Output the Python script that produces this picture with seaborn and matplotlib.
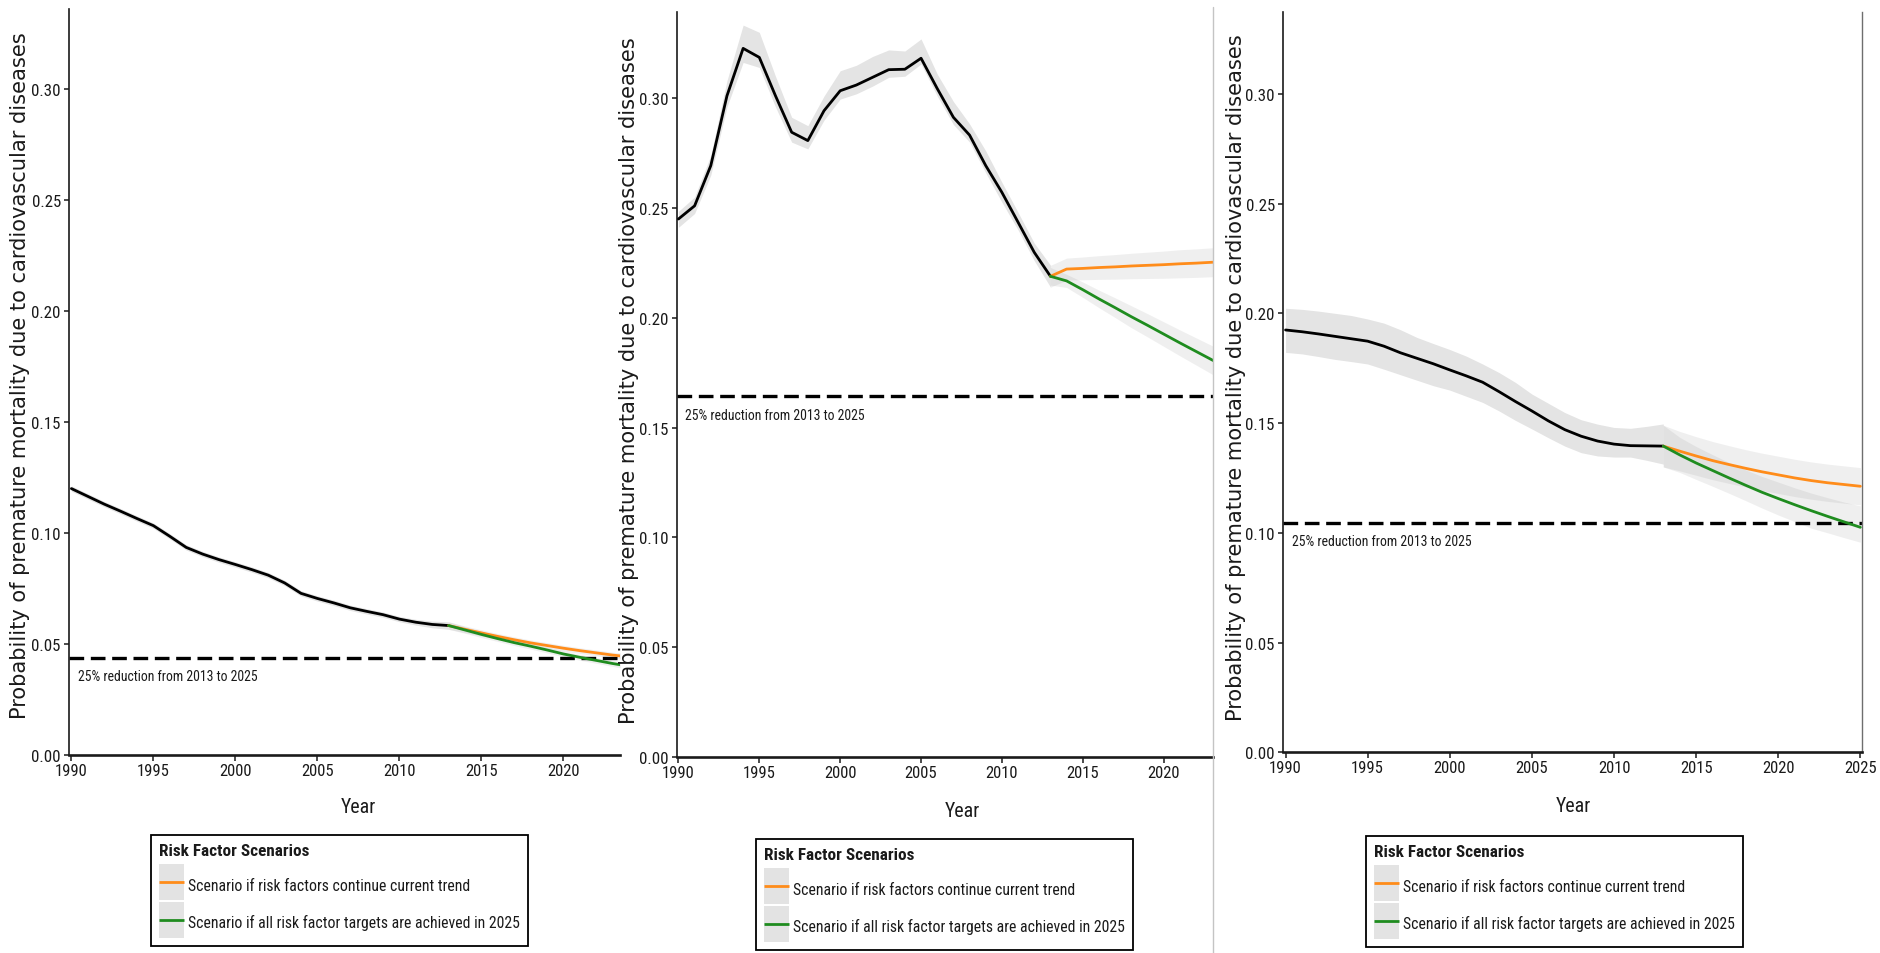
import matplotlib
matplotlib.use("Agg")
import matplotlib.pyplot as plt
import numpy as np
import pandas as pd
import seaborn as sns
from matplotlib import font_manager
from matplotlib.font_manager import FontProperties
from matplotlib.textpath import TextPath
from matplotlib.lines import Line2D
from matplotlib.patches import Rectangle

sns.set_theme(style="ticks")


def pick_narrow_font():
    """Prefer a narrow/condensed sans; fall back to Liberation Sans."""
    stretches = {}
    for f in font_manager.fontManager.ttflist:
        stretches.setdefault(f.name, set()).add(str(f.stretch))
    for name in ["Liberation Sans Narrow", "Arial Narrow", "Roboto Condensed",
                 "Noto Sans Condensed", "Open Sans Condensed", "Noto Sans Display Condensed"]:
        if name in stretches:
            return {"family": name, "stretch": "normal"}
    for name in ["Roboto", "Noto Sans", "Open Sans", "DejaVu Sans"]:
        if stretches.get(name, set()) & {"condensed", "semi-condensed", "extra-condensed"}:
            return {"family": name, "stretch": "condensed"}
    return {"family": "Liberation Sans", "stretch": "normal"}


NARROW = pick_narrow_font()
WIDE = {"family": "DejaVu Sans", "stretch": "normal"}
plt.rcParams["font.family"] = [NARROW["family"], "DejaVu Sans"]

DPI = 100


def fit_size(text, target_px, font, weight="normal"):
    """Font size (pt) whose ink width equals target_px at the output dpi."""
    fp = FontProperties(family=font["family"], stretch=font["stretch"], weight=weight)
    w = TextPath((0, 0), text, size=100, prop=fp).get_extents().width
    return target_px * 72.0 / DPI * 100.0 / w


def fprops(font, size, weight="normal"):
    return FontProperties(family=font["family"], stretch=font["stretch"], size=size, weight=weight)


# ---------------- data ----------------
years_hist = list(range(1990, 2014))
years_proj = list(range(2013, 2026))

# Panel 1
p1_hist = [0.1200, 0.1165, 0.1130, 0.1098, 0.1065, 0.1033, 0.0985, 0.0935, 0.0905, 0.0880, 0.0858, 0.0835,
           0.0810, 0.0775, 0.0728, 0.0705, 0.0685, 0.0663, 0.0647, 0.0632, 0.0612, 0.0598, 0.0588, 0.0583]
p1_hist_lo = [0.1188, 0.1153, 0.1118, 0.1086, 0.1053, 0.1021, 0.0973, 0.0923, 0.0893, 0.0868, 0.0846, 0.0823,
              0.0798, 0.0763, 0.0716, 0.0693, 0.0673, 0.0651, 0.0635, 0.0620, 0.0600, 0.0585, 0.0573, 0.0566]
p1_hist_hi = [0.1212, 0.1177, 0.1142, 0.1110, 0.1077, 0.1045, 0.0997, 0.0947, 0.0917, 0.0892, 0.0870, 0.0847,
              0.0822, 0.0787, 0.0740, 0.0717, 0.0697, 0.0675, 0.0659, 0.0644, 0.0624, 0.0611, 0.0603, 0.0600]
p1_trend = [0.0583, 0.0566, 0.0550, 0.0534, 0.0519, 0.0505, 0.0493, 0.0481, 0.0470, 0.0460, 0.0450, 0.0442, 0.0435]
p1_trend_lo = [0.0566, 0.0551, 0.0536, 0.0521, 0.0506, 0.0492, 0.0480, 0.0468, 0.0457, 0.0447, 0.0437, 0.0428, 0.0421]
p1_trend_hi = [0.0600, 0.0581, 0.0564, 0.0547, 0.0532, 0.0518, 0.0506, 0.0494, 0.0483, 0.0473, 0.0463, 0.0456, 0.0449]
p1_target = [0.0583, 0.0563, 0.0543, 0.0524, 0.0506, 0.0490, 0.0473, 0.0455, 0.0440, 0.0426, 0.0412, 0.0400, 0.0389]
p1_target_lo = [0.0566, 0.0548, 0.0529, 0.0511, 0.0493, 0.0477, 0.0460, 0.0442, 0.0427, 0.0413, 0.0399, 0.0386, 0.0375]
p1_target_hi = [0.0600, 0.0578, 0.0557, 0.0537, 0.0519, 0.0503, 0.0486, 0.0468, 0.0453, 0.0439, 0.0425, 0.0414, 0.0403]

# Panel 2
p2_hist = [0.2450, 0.2510, 0.2693, 0.3011, 0.3227, 0.3186, 0.3011, 0.2845, 0.2807, 0.2943, 0.3034, 0.3060,
           0.3095, 0.3130, 0.3132, 0.3182, 0.3044, 0.2913, 0.2832, 0.2693, 0.2571, 0.2435, 0.2298, 0.2189]
p2_hist_lo = [0.2412, 0.2475, 0.2650, 0.2960, 0.3163, 0.3140, 0.2960, 0.2800, 0.2769, 0.2900, 0.2996, 0.3020,
              0.3055, 0.3095, 0.3100, 0.3156, 0.3010, 0.2880, 0.2800, 0.2660, 0.2526, 0.2400, 0.2260, 0.2140]
p2_hist_hi = [0.2485, 0.2550, 0.2740, 0.3080, 0.3333, 0.3300, 0.3100, 0.2913, 0.2875, 0.3010, 0.3125, 0.3150,
              0.3190, 0.3220, 0.3215, 0.3270, 0.3110, 0.2985, 0.2883, 0.2760, 0.2617, 0.2480, 0.2340, 0.2240]
p2_trend = [0.2189, 0.2222, 0.2225, 0.2229, 0.2232, 0.2236, 0.2239, 0.2242, 0.2246, 0.2249, 0.2253, 0.2256, 0.2260]
p2_trend_lo = [0.2139, 0.2172, 0.2173, 0.2175, 0.2176, 0.2178, 0.2179, 0.2180, 0.2182, 0.2184, 0.2187, 0.2188, 0.2190]
p2_trend_hi = [0.2239, 0.2272, 0.2277, 0.2283, 0.2288, 0.2294, 0.2299, 0.2304, 0.2310, 0.2314, 0.2319, 0.2324, 0.2330]
p2_target = [0.2189, 0.2168, 0.2128, 0.2086, 0.2046, 0.2005, 0.1966, 0.1926, 0.1886, 0.1847, 0.1808, 0.1770, 0.1733]
p2_target_lo = [0.2149, 0.2138, 0.2093, 0.2046, 0.2001, 0.1955, 0.1913, 0.1870, 0.1827, 0.1785, 0.1743, 0.1702, 0.1663]
p2_target_hi = [0.2229, 0.2198, 0.2163, 0.2126, 0.2091, 0.2055, 0.2019, 0.1982, 0.1945, 0.1909, 0.1873, 0.1838, 0.1803]

# Panel 3
p3_hist = [0.1924, 0.1916, 0.1906, 0.1895, 0.1884, 0.1873, 0.1850, 0.1820, 0.1795, 0.1770, 0.1742, 0.1715,
           0.1686, 0.1643, 0.1598, 0.1555, 0.1510, 0.1470, 0.1440, 0.1418, 0.1404, 0.1397, 0.1396, 0.1395]
p3_hist_lo = [0.1822, 0.1815, 0.1803, 0.1790, 0.1780, 0.1769, 0.1745, 0.1720, 0.1695, 0.1670, 0.1650, 0.1622,
              0.1594, 0.1555, 0.1512, 0.1473, 0.1433, 0.1395, 0.1365, 0.1350, 0.1345, 0.1345, 0.1330, 0.1313]
p3_hist_hi = [0.2023, 0.2018, 0.2010, 0.2000, 0.1990, 0.1974, 0.1955, 0.1925, 0.1890, 0.1862, 0.1835, 0.1805,
              0.1769, 0.1730, 0.1685, 0.1632, 0.1590, 0.1548, 0.1515, 0.1495, 0.1480, 0.1476, 0.1485, 0.1496]
p3_trend = [0.1395, 0.1372, 0.1350, 0.1329, 0.1311, 0.1294, 0.1278, 0.1264, 0.1250, 0.1238, 0.1228, 0.1220, 0.1212]
p3_trend_lo = [0.1300, 0.1282, 0.1262, 0.1242, 0.1225, 0.1209, 0.1193, 0.1179, 0.1165, 0.1153, 0.1143, 0.1135, 0.1127]
p3_trend_hi = [0.1490, 0.1462, 0.1438, 0.1416, 0.1397, 0.1379, 0.1363, 0.1349, 0.1335, 0.1323, 0.1313, 0.1305, 0.1297]
p3_target = [0.1395, 0.1355, 0.1318, 0.1284, 0.1250, 0.1217, 0.1185, 0.1156, 0.1128, 0.1101, 0.1075, 0.1050, 0.1025]
p3_target_lo = [0.1300, 0.1275, 0.1243, 0.1212, 0.1180, 0.1147, 0.1113, 0.1081, 0.1051, 0.1021, 0.1000, 0.0978, 0.0957]
p3_target_hi = [0.1490, 0.1435, 0.1393, 0.1356, 0.1320, 0.1287, 0.1257, 0.1231, 0.1205, 0.1181, 0.1160, 0.1140, 0.1123]

y_ticks = [0.00, 0.05, 0.10, 0.15, 0.20, 0.25, 0.30]
x_ticks = [1990, 1995, 2000, 2005, 2010, 2015, 2020, 2025]

SERIES_HIST = "Observed"
SERIES_TREND = "Scenario if risk factors continue current trend"
SERIES_TARGET = "Scenario if all risk factor targets are achieved in 2025"
LEGEND_TITLE = "Risk Factor Scenarios"
GOAL_TEXT = "25% reduction from 2013 to 2025"
Y_LABEL = "Probability of premature mortality due to cardiovascular diseases"
X_LABEL = "Year"

ORANGE = "#ff8c1a"
GREEN = "#1f8c1f"
PALETTE = {SERIES_HIST: "black", SERIES_TREND: ORANGE, SERIES_TARGET: GREEN}
BAND = "#808080"
KEY_BG = "#e3e3e3"
INK = "#1a1a1a"

# ---------------- text sizes ----------------
FS_YTICK = fit_size("0.30", 27.5, NARROW)
FS_XTICK = fit_size("1990", 30.5, NARROW)
FS_XLABEL = fit_size(X_LABEL, 34.7, NARROW)
FS_GOAL = fit_size(GOAL_TEXT, 180.0, NARROW)
FS_LEG = fit_size(SERIES_TARGET, 330.0, NARROW)
FS_TITLE = fit_size(LEGEND_TITLE, 148.0, NARROW, weight="bold")
FS_YLABEL = fit_size(Y_LABEL, 685.0, WIDE)


class ScenarioKey:
    """Legend key: grey square with the scenario line centred across it."""

    def legend_artist(self, legend, orig_handle, fontsize, handlebox):
        x0, y0 = -handlebox.xdescent, -handlebox.ydescent
        w, h = handlebox.width, handlebox.height
        bg = Rectangle((x0, y0), w, h, facecolor=KEY_BG, edgecolor="none",
                       transform=handlebox.get_transform())
        ln = Line2D([x0, x0 + w], [y0 + h / 2, y0 + h / 2], color=orig_handle.get_color(),
                    lw=2.0, solid_capstyle="butt", transform=handlebox.get_transform())
        handlebox.add_artist(bg)
        handlebox.add_artist(ln)
        return bg


# ---------------- figure ----------------
W, H = 1880, 954
fig = plt.figure(figsize=(W / DPI, H / DPI), dpi=DPI)

panels = [
    dict(box=(68.6, 10.0, 620.4, 756.0), xlim=(1989.83, 2023.47), ytop=0.336,
         hist=(p1_hist, p1_hist_lo, p1_hist_hi), trend=(p1_trend, p1_trend_lo, p1_trend_hi),
         target=(p1_target, p1_target_lo, p1_target_hi),
         ylab_px=(26.5, 375.5), xlab_px=(358.0, 813.3), legend=(151, 836), right=None),
    dict(box=(676.5, 12.7, 1213.0, 758.0), xlim=(1989.88, 2023.05), ytop=0.3394,
         hist=(p2_hist, p2_hist_lo, p2_hist_hi), trend=(p2_trend, p2_trend_lo, p2_trend_hi),
         target=(p2_target, p2_target_lo, p2_target_hi),
         ylab_px=(635.0, 380.5), xlab_px=(962.0, 816.7), legend=(756, 840), right=None),
    dict(box=(1282.6, 12.7, 1862.0, 753.3), xlim=(1989.82, 2025.1), ytop=0.3374,
         hist=(p3_hist, p3_hist_lo, p3_hist_hi), trend=(p3_trend, p3_trend_lo, p3_trend_hi),
         target=(p3_target, p3_target_lo, p3_target_hi),
         ylab_px=(1242.0, 377.5), xlab_px=(1573.0, 811.7), legend=(1366, 837), right="#6e6e6e"),
]

for p in panels:
    left, top, right, bottom = p["box"]
    ax = fig.add_axes([left / W, 1 - bottom / H, (right - left) / W, (bottom - top) / H])
    hist, hist_lo, hist_hi = p["hist"]
    trend, trend_lo, trend_hi = p["trend"]
    target, target_lo, target_hi = p["target"]

    # uncertainty bands
    ax.fill_between(years_hist, hist_lo, hist_hi, color=BAND, alpha=0.21, lw=0, zorder=1)
    ax.fill_between(years_proj, trend_lo, trend_hi, color=BAND, alpha=0.12, lw=0, zorder=1)
    ax.fill_between(years_proj, target_lo, target_hi, color=BAND, alpha=0.12, lw=0, zorder=1)

    # central estimates
    df = pd.concat([
        pd.DataFrame({"Year": years_hist, "Probability": hist, "Series": SERIES_HIST}),
        pd.DataFrame({"Year": years_proj, "Probability": trend, "Series": SERIES_TREND}),
        pd.DataFrame({"Year": years_proj, "Probability": target, "Series": SERIES_TARGET}),
    ], ignore_index=True)
    sns.lineplot(data=df, x="Year", y="Probability", hue="Series", palette=PALETTE,
                 hue_order=[SERIES_HIST, SERIES_TREND, SERIES_TARGET],
                 errorbar=None, legend=False, linewidth=2.0, ax=ax, zorder=3)

    # 25% reduction goal relative to 2013
    goal = 0.75 * hist[-1]
    ax.axhline(goal, color="black", lw=2.4, dashes=(4.4, 2.0), zorder=2)
    ax.annotate(GOAL_TEXT, xy=(1990.4, goal), xytext=(0, -16), textcoords="offset points",
                ha="left", va="baseline", fontproperties=fprops(NARROW, FS_GOAL), color=INK)

    ax.set_xlim(*p["xlim"])
    ax.set_ylim(0, p["ytop"])
    ax.set_xticks([t for t in x_ticks if t <= p["xlim"][1]])
    ax.set_yticks(y_ticks)
    ax.set_yticklabels([f"{t:.2f}" for t in y_ticks])
    for lab in ax.get_xticklabels():
        lab.set_fontproperties(fprops(NARROW, FS_XTICK))
    for lab in ax.get_yticklabels():
        lab.set_fontproperties(fprops(NARROW, FS_YTICK))

    for side in ("top", "right"):
        ax.spines[side].set_visible(False)
    ax.spines["left"].set_linewidth(1.2)
    ax.spines["left"].set_color(INK)
    ax.spines["bottom"].set_linewidth(1.9)
    ax.spines["bottom"].set_color(INK)
    if p["right"]:
        ax.spines["right"].set_visible(True)
        ax.spines["right"].set_color(p["right"])
        ax.spines["right"].set_linewidth(1.0)

    ax.tick_params(axis="x", direction="out", length=4.1, width=1.1, color=INK,
                   labelcolor=INK, pad=1.5)
    ax.tick_params(axis="y", direction="out", length=3.6, width=1.1, color=INK,
                   labelcolor=INK, pad=2.0)
    ax.grid(False)

    ax_h = bottom - top
    ax_w = right - left
    ax.set_xlabel(X_LABEL, fontproperties=fprops(NARROW, FS_XLABEL), color=INK)
    ax.xaxis.set_label_coords((p["xlab_px"][0] - left) / ax_w, -(p["xlab_px"][1] - bottom) / ax_h)
    ax.xaxis.label.set_verticalalignment("baseline")
    ax.set_ylabel(Y_LABEL, fontproperties=fprops(WIDE, FS_YLABEL), color=INK)
    ax.yaxis.set_label_coords((p["ylab_px"][0] - left) / ax_w, (bottom - p["ylab_px"][1]) / ax_h)
    ax.yaxis.label.set_verticalalignment("baseline")

    # legend: grey key squares with the scenario colour drawn across
    fs_px = FS_LEG * DPI / 72.0
    key_w, key_h, key_gap = 24.5, 36.0, 1.5
    pad_px = 8.0
    handles = [Line2D([], [], color=ORANGE), Line2D([], [], color=GREEN)]
    lx, ly = p["legend"]
    leg = ax.legend(handles, [SERIES_TREND, SERIES_TARGET],
                    handler_map={Line2D: ScenarioKey()},
                    title=LEGEND_TITLE, loc="upper left",
                    bbox_to_anchor=(lx / W, 1 - ly / H), bbox_transform=fig.transFigure,
                    borderaxespad=0, frameon=True, fancybox=False, framealpha=1,
                    edgecolor="black", facecolor="white",
                    prop=fprops(NARROW, FS_LEG),
                    title_fontproperties=fprops(NARROW, FS_TITLE, weight="bold"),
                    alignment="left", borderpad=pad_px / fs_px,
                    handlelength=key_w / fs_px,
                    handleheight=(key_h / fs_px - 0.245) / 0.65,
                    labelspacing=key_gap / fs_px, handletextpad=4.5 / fs_px)
    leg.get_frame().set_linewidth(1.3)
    leg._legend_box.sep = 4.5
    for t in leg.get_texts():
        t.set_color(INK)
        t.set_y(-3.0)
    leg.get_title().set_color(INK)

# separator between the second and third panels
fig.add_artist(Line2D([1213 / W, 1213 / W], [0, 1 - 8 / H], transform=fig.transFigure,
                      color="#c4c4c4", lw=1.0))

fig.savefig("out.png", dpi=DPI, facecolor="white")
